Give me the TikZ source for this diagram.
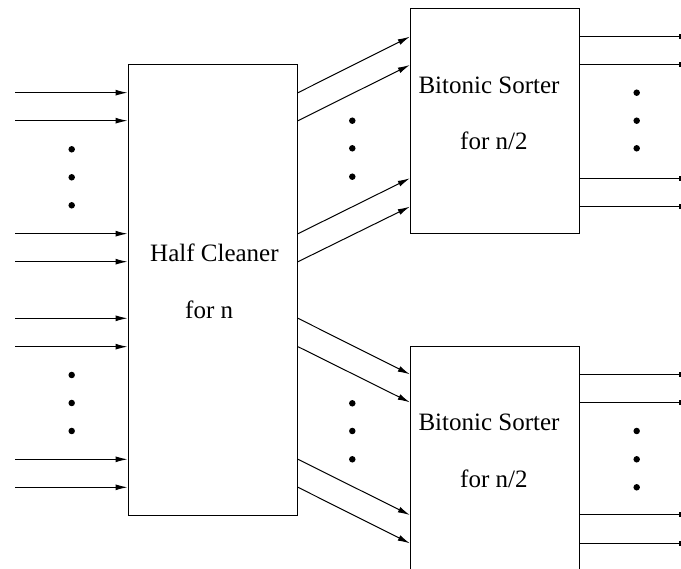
\documentclass[tikz,border=0pt]{standalone}
\usepackage{fontspec}
\setmainfont{Liberation Serif}
\usetikzlibrary{arrows.meta}
\begin{document}
\begin{tikzpicture}[x=1pt,y=-1pt,
  box/.style={draw,line width=1pt,rectangle,inner sep=0pt},
  wire/.style={line width=1pt,-{Latex[length=12pt,width=6pt]}},
  outwire/.style={line width=1pt,-{Rectangle[length=2pt,width=5pt]}},
  dot/.style={circle,fill,inner sep=0pt,minimum size=6.5pt},
  lbl/.style={anchor=base west,inner sep=0pt,font=\fontsize{25}{30}\selectfont}]
\useasboundingbox (0,0) rectangle (681,569);
% boxes
\node[box,minimum width=169.5pt,minimum height=451pt] (hc) at (212.75,290.2) {};
\node[box,minimum width=169pt,minimum height=225pt] (bs1) at (494.8,120.8) {};
\node[box,minimum width=169pt,minimum height=225pt] (bs2) at (494.8,459.2) {};
% labels
\node[lbl] (hcl1) at (150,261.7) {Half Cleaner};
\node[lbl] (hcl2) at (185,318.3) {for n};
\node[lbl] (b1l1) at (418.3,93.3) {Bitonic Sorter};
\node[lbl] (b1l2) at (460,149.3) {for n/2};
\node[lbl] (b2l1) at (418.3,430.7) {Bitonic Sorter};
\node[lbl] (b2l2) at (460,487.3) {for n/2};
% inputs
\foreach \n/\y in {1/92.7,2/120.7,3/233.7,4/261.7,5/318.3,6/346.7,7/459.3,8/487.3}{
  \coordinate (in\n) at (15,\y);
  \draw[wire] (in\n) -- (in\n -| hc.west);
}
% sorter inputs / outputs
\foreach \n/\y in {1/36.7,2/65,3/178.3,4/206.7}{
  \coordinate (s\n) at (0,\y);
  \coordinate (o\n) at (680.5,\y);
  \draw[outwire] (s\n -| bs1.east) -- (o\n);
}
\foreach \n/\y in {5/374.3,6/402.3,7/515,8/543.3}{
  \coordinate (s\n) at (0,\y);
  \coordinate (o\n) at (680.5,\y);
  \draw[outwire] (s\n -| bs2.east) -- (o\n);
}
\foreach \n in {1,2,3,4}{
  \draw[wire] (in\n -| hc.east) -- (s\n -| bs1.west);
}
\foreach \n in {5,6,7,8}{
  \draw[wire] (in\n -| hc.east) -- (s\n -| bs2.west);
}
% dots
\foreach \y [count=\i] in {149.3,177.3,205.3,375,403,431}{
  \node[dot] (dl\i) at (71.7,\y) {};
}
\foreach \y [count=\i] in {120.7,148.3,176.7,403.3,431,459.3}{
  \node[dot] (dm\i) at (352.3,\y) {};
}
\foreach \y [count=\i] in {92.7,120.7,148.3,431,459.3,487.3}{
  \node[dot] (dr\i) at (636.7,\y) {};
}
\end{tikzpicture}
\end{document}
